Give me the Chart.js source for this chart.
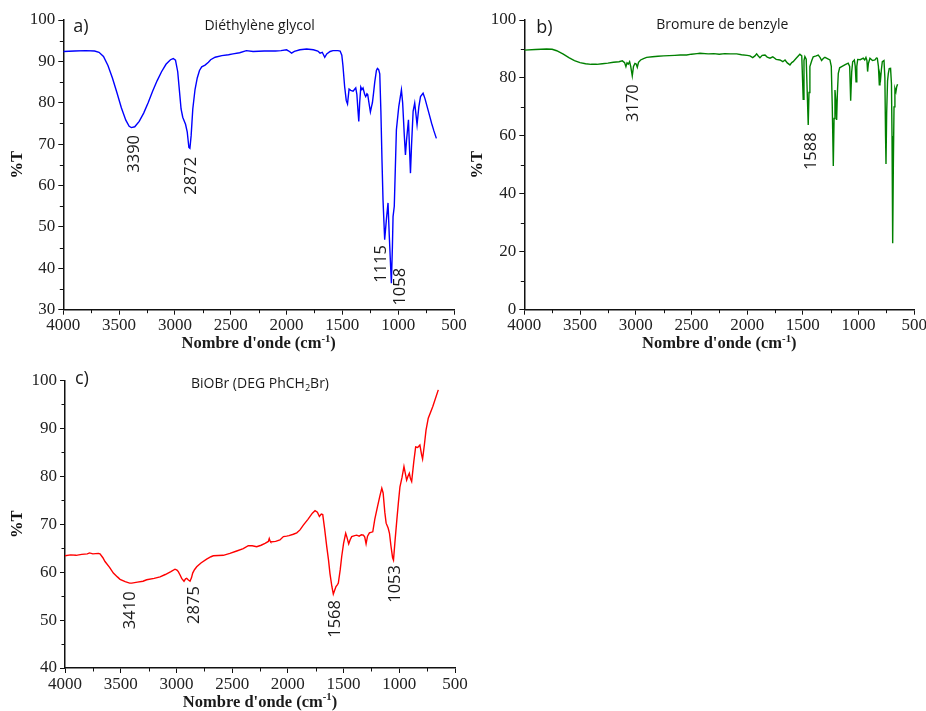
<!DOCTYPE html>
<html><head><meta charset="utf-8">
<script src="https://cdn.jsdelivr.net/npm/chart.js@4/dist/chart.umd.min.js"></script>
<style>
html,body{margin:0;padding:0;background:#fff;overflow:hidden;width:926px;height:711px;}
canvas{position:absolute;left:0;top:0;}
</style></head><body>
<canvas id="ca" width="940" height="711"></canvas>
<canvas id="cb" width="940" height="711"></canvas>
<canvas id="cc" width="940" height="711"></canvas>
<script>
// ---------- DATA ----------
// a) Diéthylène glycol
const degWavenumber = [4000,3900,3800,3720,3680,3640,3600,3560,3520,3480,3440,3410,3390,3360,3320,3280,3240,3200,3160,3120,3080,3040,3015,2995,2975,2960,2945,2930,2915,2905,2890,2875,2866,2855,2840,2820,2800,2780,2760,2730,2700,2680,2640,2580,2520,2480,2420,2360,2300,2200,2100,2050,2000,1980,1955,1930,1880,1820,1760,1720,1700,1680,1658,1640,1610,1584,1540,1520,1505,1495,1480,1465,1454,1440,1425,1404,1392,1380,1370,1360,1353,1345,1335,1325,1315,1300,1291,1280,1273,1262,1249,1238,1231,1220,1210,1195,1186,1175,1165,1155,1145,1136,1121,1105,1091,1080,1061,1052,1046,1035,1016,995,971,960,945,935,925,908,900,890,880,866,852,840,831,815,800,777,760,740,720,700,680,658];
const degTransmittance = [92.4,92.5,92.6,92.5,92.2,91.2,89.0,86.0,82.5,78.8,75.8,74.3,74.0,74.2,75.5,77.5,80.0,82.8,85.3,87.5,89.3,90.4,90.7,90.3,87.5,83.0,78.5,76.5,75.5,74.8,73.0,69.2,69.0,72.0,78.5,83.2,86.0,87.8,88.7,89.1,89.8,90.4,91.0,91.4,91.6,91.8,92.1,92.6,92.4,92.5,92.5,92.6,92.8,92.5,92.0,92.4,92.8,93.0,92.8,92.5,92.0,92.2,91.0,91.8,92.4,92.6,92.6,92.5,91.5,89.0,84.0,80.5,79.7,83.3,83.0,82.8,83.2,83.6,82.0,78.0,75.5,80.0,83.8,83.2,83.6,82.0,81.5,82.2,82.0,80.0,77.8,79.2,80.0,82.5,85.0,87.8,88.3,88.0,87.0,78.0,66.0,56.6,46.9,52.0,55.8,48.0,36.4,45.0,52.5,55.0,73.5,79.0,83.1,80.0,72.0,67.4,71.0,75.9,70.0,63.0,70.0,78.0,79.9,77.0,74.7,79.0,81.5,82.3,81.0,79.0,77.0,75.0,73.2,71.4];

// b) Bromure de benzyle
const bnbWavenumber = [4000,3900,3800,3750,3709,3650,3600,3550,3500,3450,3400,3350,3300,3250,3200,3150,3120,3100,3088,3078,3067,3055,3045,3031,3020,3007,2996,2986,2975,2956,2930,2902,2850,2800,2750,2700,2650,2600,2543,2500,2450,2424,2350,2300,2250,2200,2150,2094,2050,2000,1975,1950,1930,1915,1900,1885,1865,1840,1820,1795,1770,1740,1706,1680,1660,1640,1616,1600,1587,1560,1527,1510,1497,1490,1482,1470,1452,1445,1437,1420,1407,1380,1362,1345,1332,1315,1302,1280,1257,1245,1236,1227,1220,1212,1204,1197,1190,1182,1170,1152,1120,1093,1080,1071,1062,1053,1038,1030,1023,1016,1008,985,958,945,934,925,919,912,898,875,853,840,832,822,814,808,802,795,787,772,764,758,754,748,740,733,725,713,705,700,696,692,688,682,674,665,658,650];
const bnbTransmittance = [89.6,89.8,90.0,89.9,89.4,88.2,87.0,86.0,85.3,84.9,84.7,84.7,84.9,85.1,85.4,85.6,85.9,85.3,83.9,85.2,84.8,85.6,84.0,80.7,84.0,85.0,84.8,83.7,85.4,86.2,86.7,87.1,87.3,87.5,87.6,87.7,87.8,87.9,87.9,88.2,88.4,88.5,88.3,88.4,88.2,88.4,88.3,88.3,88.0,87.8,87.6,87.0,87.6,88.3,87.6,87.0,87.8,87.9,87.2,86.8,87.3,86.4,86.2,85.6,86.2,85.2,84.5,85.3,85.6,86.8,88.2,87.6,72.6,86.0,87.4,86.5,63.8,75.0,83.9,86.0,87.3,87.6,87.9,87.0,86.0,86.8,87.1,86.7,86.2,84.0,70.0,49.6,66.0,75.8,72.0,65.5,75.0,81.6,83.5,83.9,84.6,85.1,84.0,72.1,82.0,85.6,86.2,84.0,78.7,84.0,86.4,86.3,86.8,86.2,87.1,86.0,82.2,85.0,86.8,86.0,86.2,86.9,86.8,84.0,77.6,81.0,79.9,83.0,85.6,86.0,80.0,60.0,50.3,68.0,79.0,81.6,83.2,83.3,78.0,60.0,40.0,22.9,50.0,70.0,76.4,75.2,77.0,77.8];

// c) BiOBr (DEG PhCH2Br)
const biobrWavenumber = [4000,3950,3900,3850,3800,3780,3750,3700,3686,3660,3641,3600,3566,3530,3506,3460,3420,3401,3350,3300,3267,3200,3147,3100,3050,3013,2995,2983,2965,2953,2932,2918,2908,2895,2878,2865,2854,2838,2818,2780,2729,2690,2669,2579,2520,2459,2400,2355,2320,2280,2240,2205,2175,2167,2160,2154,2110,2071,2040,2011,1990,1951,1920,1891,1861,1820,1780,1756,1735,1717,1700,1687,1670,1651,1635,1622,1605,1592,1580,1568,1555,1547,1530,1517,1500,1481,1470,1454,1440,1427,1400,1382,1360,1340,1322,1310,1298,1285,1268,1238,1220,1196,1175,1157,1145,1130,1118,1100,1088,1075,1060,1052,1040,1022,1008,994,975,958,945,934,922,910,900,889,870,853,835,815,800,791,775,760,740,700,650];
const biobrTransmittance = [63.4,63.6,63.5,63.7,63.8,64.0,63.8,63.9,63.8,63.0,62.2,61.0,59.8,59.0,58.5,58.0,57.7,57.7,57.9,58.1,58.4,58.7,59.0,59.5,60.1,60.6,60.4,60.1,59.3,58.7,58.1,58.6,58.7,58.4,58.1,58.8,59.8,60.5,61.1,61.9,62.7,63.2,63.4,63.5,63.9,64.4,64.9,65.5,65.5,65.3,65.6,66.0,66.4,67.0,66.5,66.3,66.4,66.7,67.4,67.5,67.6,67.9,68.2,68.8,69.8,71.0,72.3,72.8,72.5,71.6,72.1,72.0,69.0,65.3,62.5,59.7,57.0,55.4,56.2,57.0,57.4,57.7,60.5,63.2,66.0,68.1,67.3,65.9,66.8,67.4,67.6,67.7,67.5,67.8,67.7,67.3,65.9,67.5,68.2,68.4,71.0,73.6,75.8,77.5,76.5,72.5,70.2,69.2,68.1,65.5,63.0,62.5,66.0,70.9,74.5,77.8,79.8,82.0,80.5,79.2,80.0,80.6,79.5,78.9,83.0,86.1,86.0,86.5,84.5,83.6,86.5,89.6,92.1,94.5,98.0];

// tick / axis ranges
const xTicksMin = 500, xTicksMax = 4000, xTickStep = 500;
const yRangeA = [30, 100], yStepA = 10;
const yRangeB = [0, 100],  yStepB = 20;
const yRangeC = [40, 100], yStepC = 10;

// peak labels: text, wavenumber, transmittance where the label starts
const peaksA = [['3390',3367,63.1],['2872',2857,57.8],['1115',1152,36.5],['1058',977,31.0]];
const peaksB = [['3170',3020,64.8],['1588',1427,48.2]];
const peaksC = [['3410',3417,48.1],['2875',2842,49.2],['1568',1577,46.3],['1053',1034,53.6]];

// ---------- DRAWING ----------
const SANS = "'Open Sans', sans-serif";
const SERIF = "'Liberation Serif', 'Times New Roman', serif";
const AXIS = '#111';
const TXT = '#1a1a1a';
Chart.defaults.font.family = SERIF;

function pts(xs, ys){ return xs.map((x,i)=>({x:x, y:ys[i]})); }

function drawSegs(ctx, segs, x, y, align, size, weight, family){
  const font = (s)=> `${weight} ${s}px ${family}`;
  let w = 0;
  const parts = segs.map(sg=>{
    const s = sg.s ? size*0.65 : size;
    ctx.font = font(s);
    const wd = ctx.measureText(sg.t).width;
    w += wd;
    return {t:sg.t, s, wd, dy: sg.s==='sup' ? -size*0.38 : (sg.s==='sub' ? size*0.22 : 0)};
  });
  let cx = align==='center' ? x - w/2 : x;
  ctx.textAlign = 'left'; ctx.textBaseline = 'alphabetic';
  parts.forEach(p=>{ ctx.font = font(p.s); ctx.fillText(p.t, cx, y + p.dy); cx += p.wd; });
}

const panelText = {
  id: 'panelText',
  afterDraw(chart, args, o){
    const {ctx, chartArea: ca, scales:{x, y}} = chart;
    ctx.save();
    // minor ticks
    ctx.strokeStyle = AXIS; ctx.lineWidth = 1;
    ctx.beginPath();
    for (let v = xTicksMin + xTickStep/2; v < xTicksMax; v += xTickStep){
      const px = Math.round(x.getPixelForValue(v)) + 0.5;
      ctx.moveTo(px, ca.bottom); ctx.lineTo(px, ca.bottom + 3.5);
    }
    for (let v = y.min + o.yStep/2; v < y.max; v += o.yStep){
      const py = Math.round(y.getPixelForValue(v)) + 0.5;
      ctx.moveTo(ca.left, py); ctx.lineTo(ca.left - 3.5, py);
    }
    ctx.stroke();
    // peak labels
    ctx.fillStyle = TXT;
    ctx.font = `16.5px ${SANS}`;
    ctx.textAlign = 'left'; ctx.textBaseline = 'middle';
    o.peaks.forEach(([t, wn, at])=>{
      ctx.save();
      ctx.translate(x.getPixelForValue(wn), y.getPixelForValue(at));
      ctx.rotate(-Math.PI/2);
      ctx.fillText(t, 0, 0);
      ctx.restore();
    });
    // title
    drawSegs(ctx, o.title, (ca.left+ca.right)/2 + o.titleDx, ca.top + o.titleDy, 'center', 14, '', SANS);
    // panel letter
    ctx.font = `18px ${SANS}`; ctx.textAlign = 'left'; ctx.textBaseline = 'alphabetic';
    ctx.fillText(o.letter, ca.left + o.letterDx, ca.top + o.letterDy);
    // x axis title
    drawSegs(ctx, [{t:"Nombre d'onde (cm"},{t:'-1',s:'sup'},{t:')'}], (ca.left+ca.right)/2, ca.bottom + 38.5, 'center', 16.5, 'bold', SERIF);
    ctx.restore();
  }
};

function makeChart(id, data, color, yRange, yStep, cfg){
  return new Chart(document.getElementById(id), {
    type: 'line',
    data: { datasets: [{ data: data, borderColor: color, borderWidth: 1.4, pointRadius: 0, fill: false, tension: 0 }] },
    options: {
      responsive: false, animation: false, devicePixelRatio: 1,
      layout: { padding: cfg.pad },
      plugins: {
        legend: {display:false}, tooltip: {enabled:false},
        panelText: { peaks: cfg.peaks, title: cfg.title, titleDx: cfg.titleDx, titleDy: cfg.titleDy, letter: cfg.letter, letterDx: cfg.letterDx, letterDy: cfg.letterDy, yStep: yStep }
      },
      scales: {
        x: {
          type: 'linear', reverse: true, min: xTicksMin, max: xTicksMax,
          afterFit: s => { s.height = 30; },
          ticks: { stepSize: xTickStep, autoSkip: false, maxRotation: 0, padding: 1, color: '#222',
                   font: {family: SERIF, size: 17}, callback: v => String(v) },
          grid: { drawOnChartArea: false, drawTicks: true, tickLength: 5, tickColor: AXIS, tickWidth: 1 },
          border: { display: true, color: AXIS, width: 1.5 }
        },
        y: {
          type: 'linear', min: yRange[0], max: yRange[1],
          afterFit: s => { s.width = cfg.yw; },
          ticks: { stepSize: yStep, padding: 3, color: '#222', font: {family: SERIF, size: 17}, callback: v => String(v) },
          grid: { drawOnChartArea: false, drawTicks: true, tickLength: 5, tickColor: AXIS, tickWidth: 1 },
          border: { display: true, color: AXIS, width: 1.5 },
          title: { display: true, text: '%T', color: '#111', font: {family: SERIF, size: 16.5, weight: 'bold'}, padding: {top: 8, bottom: 0} }
        }
      }
    },
    plugins: [panelText]
  });
}

makeChart('ca', pts(degWavenumber, degTransmittance), '#0000ff', yRangeA, yStepA, {
  pad: {left: 0, top: 20, right: 486, bottom: 371.3}, yw: 63.3,
  peaks: peaksA, title: [{t:'Diéthylène glycol'}], titleDx: 1, titleDy: 9.5,
  letter: 'a)', letterDx: 10, letterDy: 12
});
makeChart('cb', pts(bnbWavenumber, bnbTransmittance), '#008000', yRangeB, yStepB, {
  pad: {left: 460, top: 20, right: 25.7, bottom: 371.3}, yw: 64.3,
  peaks: peaksB, title: [{t:'Bromure de benzyle'}], titleDx: 3, titleDy: 8.5,
  letter: 'b)', letterDx: 12, letterDy: 12.5
});
makeChart('cc', pts(biobrWavenumber, biobrTransmittance), '#ff0000', yRangeC, yStepC, {
  pad: {left: 0, top: 380.3, right: 485, bottom: 13}, yw: 65,
  peaks: peaksC, title: [{t:'BiOBr (DEG PhCH'},{t:'2',s:'sub'},{t:'Br)'}], titleDx: 0, titleDy: 8,
  letter: 'c)', letterDx: 10, letterDy: 4
});
</script>
</body></html>
